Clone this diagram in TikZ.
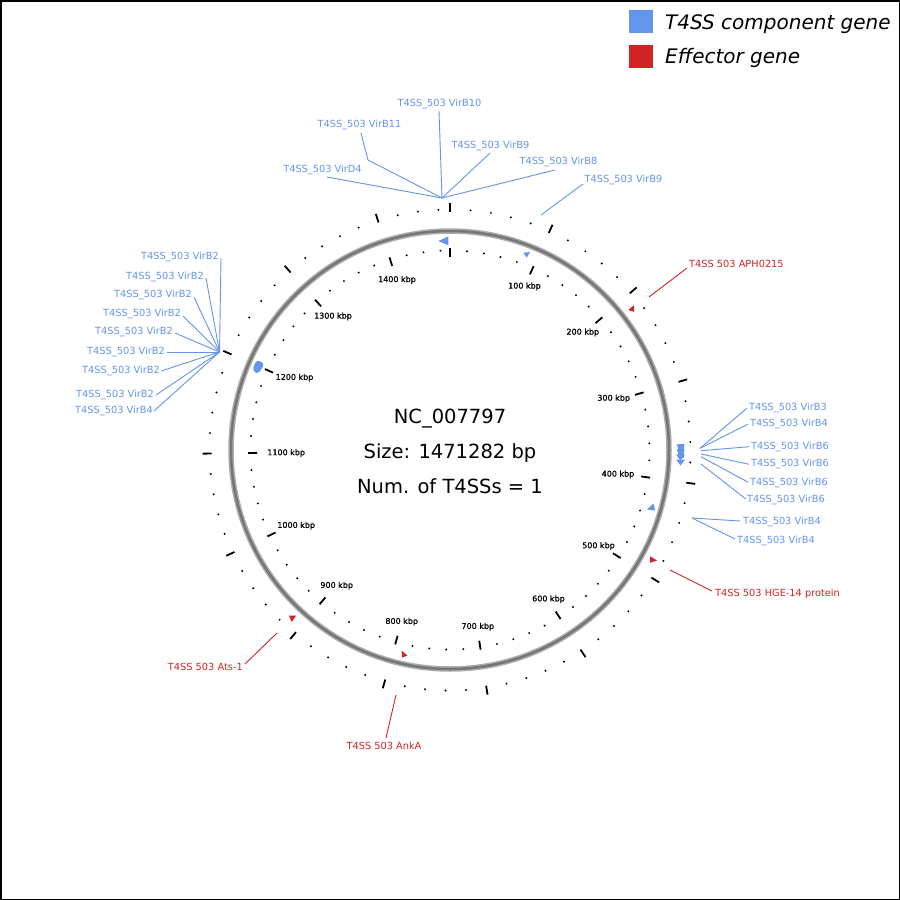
\documentclass[tikz,border=0pt]{standalone}
\usepackage{fontspec}
\setmainfont{DejaVu Sans}
\newfontfamily\kbpfont[FakeBold=0.8]{DejaVu Sans}
\definecolor{gblue}{RGB}{100,149,237}
\definecolor{gred}{RGB}{208,36,36}
\definecolor{ringout}{RGB}{172,172,172}
\definecolor{ringin}{RGB}{118,118,118}
\tikzset{
  lab/.style={inner sep=0pt, font=\fontsize{9.8}{11}\selectfont},
  blab/.style={lab, text=gblue},
  rlab/.style={lab, text=gred},
  bl/.style={draw=gblue, line width=0.9pt},
  rl/.style={draw=gred, line width=0.9pt},
  kbp/.style={inner sep=0pt, anchor=base, font=\kbpfont\fontsize{8}{9}\selectfont},
  ctext/.style={inner sep=0pt, font=\fontsize{19.5}{22}\selectfont},
  legtxt/.style={inner sep=0pt, font=\fontsize{20}{22}\selectfont\itshape},
  majortick/.style={line width=1.8pt, black},
}
\begin{document}
\begin{tikzpicture}[x=1pt,y=-1pt]
\useasboundingbox (0,0) rectangle (900,900);
\fill[white] (0,0) rectangle (900,900);
\draw[line width=1.5pt] (0.75,0.75) rectangle (899.25,899.25);

% legend
\fill[gblue] (629,10) rectangle (653,33);
\fill[gred] (629,45) rectangle (653,68);
\node[legtxt, anchor=base west] (lg1) at (665,29) {T4SS component gene};
\node[legtxt, anchor=base west] (lg2) at (665,63.5) {Effector gene};

% ring and ticks
\begin{scope}[shift={(450,450)}]
  \draw[line width=5.5pt, ringout] (0,0) circle (219);
  \draw[line width=2.5pt, ringin] (0,0) circle (219);
  \foreach \i in {0,...,73}{
    \pgfmathsetmacro\a{\i*4.893692-90}
    \pgfmathtruncatemacro\m{mod(\i,5)}
    \ifnum\m=0
      \draw[majortick] (\a:193) -- (\a:202);
      \draw[majortick] (\a:238.5) -- (\a:247.5);
    \else
      \fill (\a:199.5) circle (1.1);
      \fill (\a:240.5) circle (1.1);
    \fi
  }
\end{scope}

% scale labels (x, visual centre y)
\foreach \k/\x/\y in {1/524.5/285.7, 2/582.8/331.7, 3/613.7/397.8, 4/618/473.7,
  5/598.5/545.3, 6/548.5/598.5, 7/477.8/626, 8/401.7/621, 9/336.7/585,
  10/296.2/525, 11/286.2/452.3, 12/294.5/377, 13/333/315.7, 14/397/279.2}
  \node[kbp] (k\k) at (\x,\y+2.9) {\k00 kbp};

% centre text
\node[ctext, anchor=base] (t1) at (450,423) {NC\_007797};
\node[ctext, anchor=base] (t2) at (450,458) {Size: 1471282 bp};
\node[ctext, anchor=base] (t3) at (450,493) {Num. of T4SSs = 1};

% genes
\fill[gblue] (438.3,241) -- (448.3,236.5) -- (448.5,245.3) -- cycle;
\fill[gblue] (523.3,252.7) -- (530,252) -- (526.7,257.7) -- cycle;
\fill[gblue] (677.5,444.3) rectangle (683.5,458);
\foreach \t in {444.5,449.5,454.5,459.5}
  \fill[gblue] (676,\t) -- (685,\t) -- (680.5,\t+6) -- cycle;
\fill[gblue] (647,509.5) -- (653.5,503.5) -- (655,510.5) -- cycle;
\fill[gblue, rounded corners=1.5pt] (256.5,360.5) -- (262.5,362) -- (263.5,366) -- (258.5,373) -- (254.5,372.5) -- (253,368) -- cycle;
\fill[gred] (628.3,310) -- (634,305.2) -- (634,311.8) -- cycle;
\fill[gred] (650,556.2) -- (650,562.8) -- (657,560.5) -- cycle;
\fill[gred] (289,615.7) -- (296,615.7) -- (291.7,622) -- cycle;
\fill[gred] (401.5,650.5) -- (402.3,657.7) -- (407.3,655.5) -- cycle;

% top cluster
\coordinate (ct) at (442,198);
\node[blab, anchor=base] (tD4) at (322.5,172.5) {T4SS\_503 VirD4};
\node[blab, anchor=base] (tB11) at (359.5,127.5) {T4SS\_503 VirB11};
\node[blab, anchor=base] (tB10) at (439.5,106.5) {T4SS\_503 VirB10};
\node[blab, anchor=base] (tB9) at (490.5,148.5) {T4SS\_503 VirB9};
\node[blab, anchor=base] (tB8) at (558.5,164.5) {T4SS\_503 VirB8};
\node[blab, anchor=base] (tB9b) at (623.5,182.5) {T4SS\_503 VirB9};
\coordinate (sD4) at (327,177);
\coordinate (sB11) at (361,133);
\coordinate (bB11) at (368,160);
\coordinate (sB10) at (439,111);
\coordinate (sB9) at (490,153);
\coordinate (sB8) at (555,170);
\coordinate (sB9b) at (583,184);
\coordinate (eB9b) at (541,215);
\draw[bl] (sD4) -- (ct);
\draw[bl] (sB11) -- (bB11) -- (ct);
\draw[bl] (sB10) -- (ct);
\draw[bl] (sB9) -- (ct);
\draw[bl] (sB8) -- (ct);
\draw[bl] (sB9b) -- (eB9b);

% left cluster
\coordinate (cl) at (219.5,352);
\node[blab, anchor=base east] (L1) at (219,259.5) {T4SS\_503 VirB2};
\node[blab, anchor=base east] (L2) at (204,279.5) {T4SS\_503 VirB2};
\node[blab, anchor=base east] (L3) at (192,297.5) {T4SS\_503 VirB2};
\node[blab, anchor=base east] (L4) at (181,316.5) {T4SS\_503 VirB2};
\node[blab, anchor=base east] (L5) at (173,334.5) {T4SS\_503 VirB2};
\node[blab, anchor=base east] (L6) at (165,354.5) {T4SS\_503 VirB2};
\node[blab, anchor=base east] (L7) at (160,373.5) {T4SS\_503 VirB2};
\node[blab, anchor=base east] (L8) at (154,397.5) {T4SS\_503 VirB2};
\node[blab, anchor=base east] (L9) at (153,413.5) {T4SS\_503 VirB4};
\coordinate (sL1) at (221,258);
\coordinate (sL2) at (206,278);
\coordinate (sL3) at (194,297);
\coordinate (sL4) at (183,316);
\coordinate (sL5) at (175,333);
\coordinate (sL6) at (167,352);
\coordinate (sL7) at (161,371);
\coordinate (sL8) at (156,395);
\coordinate (sL9) at (154,411);
\foreach \n in {1,...,9} \draw[bl] (sL\n) -- (cl);

% right cluster
\node[blab, anchor=base west] (R1) at (749,410.5) {T4SS\_503 VirB3};
\node[blab, anchor=base west] (R2) at (750,426.5) {T4SS\_503 VirB4};
\node[blab, anchor=base west] (R3) at (751,449.5) {T4SS\_503 VirB6};
\node[blab, anchor=base west] (R4) at (751,466.5) {T4SS\_503 VirB6};
\node[blab, anchor=base west] (R5) at (750,485.5) {T4SS\_503 VirB6};
\node[blab, anchor=base west] (R6) at (747,502.5) {T4SS\_503 VirB6};
\node[blab, anchor=base west] (R7) at (743,524.5) {T4SS\_503 VirB4};
\node[blab, anchor=base west] (R8) at (737,543.5) {T4SS\_503 VirB4};
\coordinate (gR1) at (700,448.3);
\coordinate (gR2) at (700,448.3);
\coordinate (gR3) at (701,450.7);
\coordinate (gR4) at (701,454);
\coordinate (gR5) at (701,456.7);
\coordinate (gR6) at (701,464);
\coordinate (gR7) at (692,518);
\coordinate (gR8) at (692,518);
\coordinate (eR1) at (746.7,408.3);
\coordinate (eR2) at (747.7,424.3);
\coordinate (eR3) at (749,446.7);
\coordinate (eR4) at (749,464.3);
\coordinate (eR5) at (748.3,482.3);
\coordinate (eR6) at (745.7,499);
\coordinate (eR7) at (740,521);
\coordinate (eR8) at (735,539);
\foreach \n in {1,...,8} \draw[bl] (gR\n) -- (eR\n);

% effectors
\node[rlab, anchor=base west] (E1) at (689,267.5) {T4SS 503 APH0215};
\node[rlab, anchor=base west] (E2) at (715,596.5) {T4SS 503 HGE-14 protein};
\node[rlab, anchor=base east] (E3) at (243,670.5) {T4SS 503 Ats-1};
\node[rlab, anchor=base] (E4) at (384,749.5) {T4SS 503 AnkA};
\coordinate (sE1) at (687,268);
\coordinate (gE1) at (649,297);
\coordinate (sE2) at (712,591);
\coordinate (gE2) at (670,570);
\coordinate (sE3) at (245,664);
\coordinate (gE3) at (277,633);
\coordinate (sE4) at (386,738);
\coordinate (gE4) at (396,695);
\foreach \n in {1,...,4} \draw[rl] (sE\n) -- (gE\n);
\end{tikzpicture}
\end{document}
